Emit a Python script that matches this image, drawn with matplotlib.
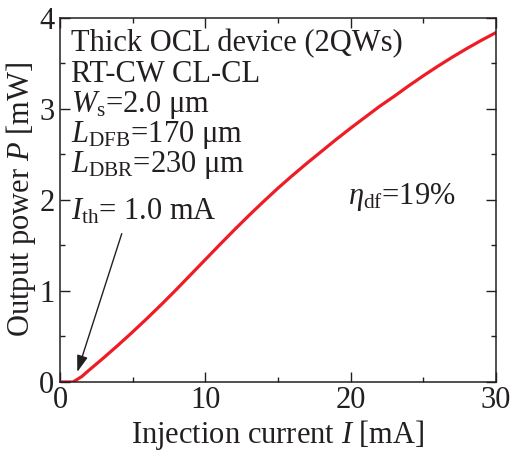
import matplotlib
matplotlib.use('Agg')
import matplotlib.pyplot as plt
from matplotlib.ticker import MultipleLocator

# Light output vs injection current
current = [0, 0.5, 0.9, 1.5, 2, 3, 4, 5, 6, 7, 8, 9, 10, 11, 12, 13, 14, 15,
           16, 17, 18, 19, 20, 21, 22, 23, 24, 25, 26, 27, 28, 29, 30]
power = [0, 0, 0.0, 0.06, 0.13, 0.265, 0.405, 0.55, 0.70, 0.855, 1.015, 1.18,
         1.345, 1.51, 1.672, 1.83, 1.982, 2.13, 2.27, 2.405, 2.535, 2.665, 2.79,
         2.91, 3.03, 3.14, 3.255, 3.365, 3.47, 3.57, 3.665, 3.755, 3.84]

info_lines = ["Thick OCL device (2QWs)",
              "RT-CW CL-CL",
              r"$W_{\rm s}$=2.0 μm",
              r"$L_{\rm DFB}$=170 μm",
              r"$L_{\rm DBR}$=230 μm"]
ith_label = r"$I_{\rm th}$= 1.0 mA"
eta_label = r"$\eta_{\rm df}$=19%"

plt.rcParams['font.family'] = ['Liberation Serif', 'DejaVu Serif']
plt.rcParams['mathtext.fontset'] = 'custom'
plt.rcParams['mathtext.rm'] = 'Liberation Serif'
plt.rcParams['mathtext.it'] = 'Liberation Serif:italic'
plt.rcParams['mathtext.bf'] = 'Liberation Serif:bold'

ink = '#231f20'
fs = 22

fig = plt.figure(figsize=(5.11, 4.59), dpi=100)
ax = fig.add_axes([0.1174, 0.1678, 0.8532, 0.793])

ax.plot(current, power, color='#ee1c25', lw=2.3, solid_capstyle='butt')

ax.set_xlim(0, 30)
ax.set_ylim(0, 4)
ax.xaxis.set_major_locator(MultipleLocator(10))
ax.xaxis.set_minor_locator(MultipleLocator(5))
ax.yaxis.set_major_locator(MultipleLocator(1))
ax.yaxis.set_minor_locator(MultipleLocator(0.5))
ax.tick_params(which='both', direction='in', top=True, right=True,
               colors=ink, labelsize=fs, width=1.0)
ax.tick_params(which='major', length=7)
ax.tick_params(axis='x', which='major', pad=3)
ax.tick_params(axis='y', which='major', pad=4)
ax.tick_params(which='minor', length=3.3)
for s in ax.spines.values():
    s.set_color(ink)
    s.set_linewidth(1.1)

ax.set_xlabel(r"Injection current $I$ [mA]", fontsize=fs, color=ink, labelpad=2)
ax.set_ylabel(r"Output power $P$ [mW]", fontsize=fs, color=ink, labelpad=1)

# info block, one line every ~30 px
for k, line in enumerate(info_lines):
    ax.text(0.025, 0.908 - k * 0.0825, line, transform=ax.transAxes,
            fontsize=fs, color=ink, ha='left', va='baseline')

ax.text(0.025, 0.446, ith_label, transform=ax.transAxes, fontsize=fs,
        color=ink, ha='left', va='baseline')
ax.text(0.66, 0.49, eta_label, transform=ax.transAxes, fontsize=fs,
        color=ink, ha='left', va='baseline')

ax.annotate("", xy=(1.19, 0.11), xytext=(4.25, 1.63),
            arrowprops=dict(arrowstyle='-|>,head_length=1.0,head_width=0.33',
                            color=ink, lw=1.0, shrinkA=0, shrinkB=0))

fig.savefig('out.png', dpi=100)
